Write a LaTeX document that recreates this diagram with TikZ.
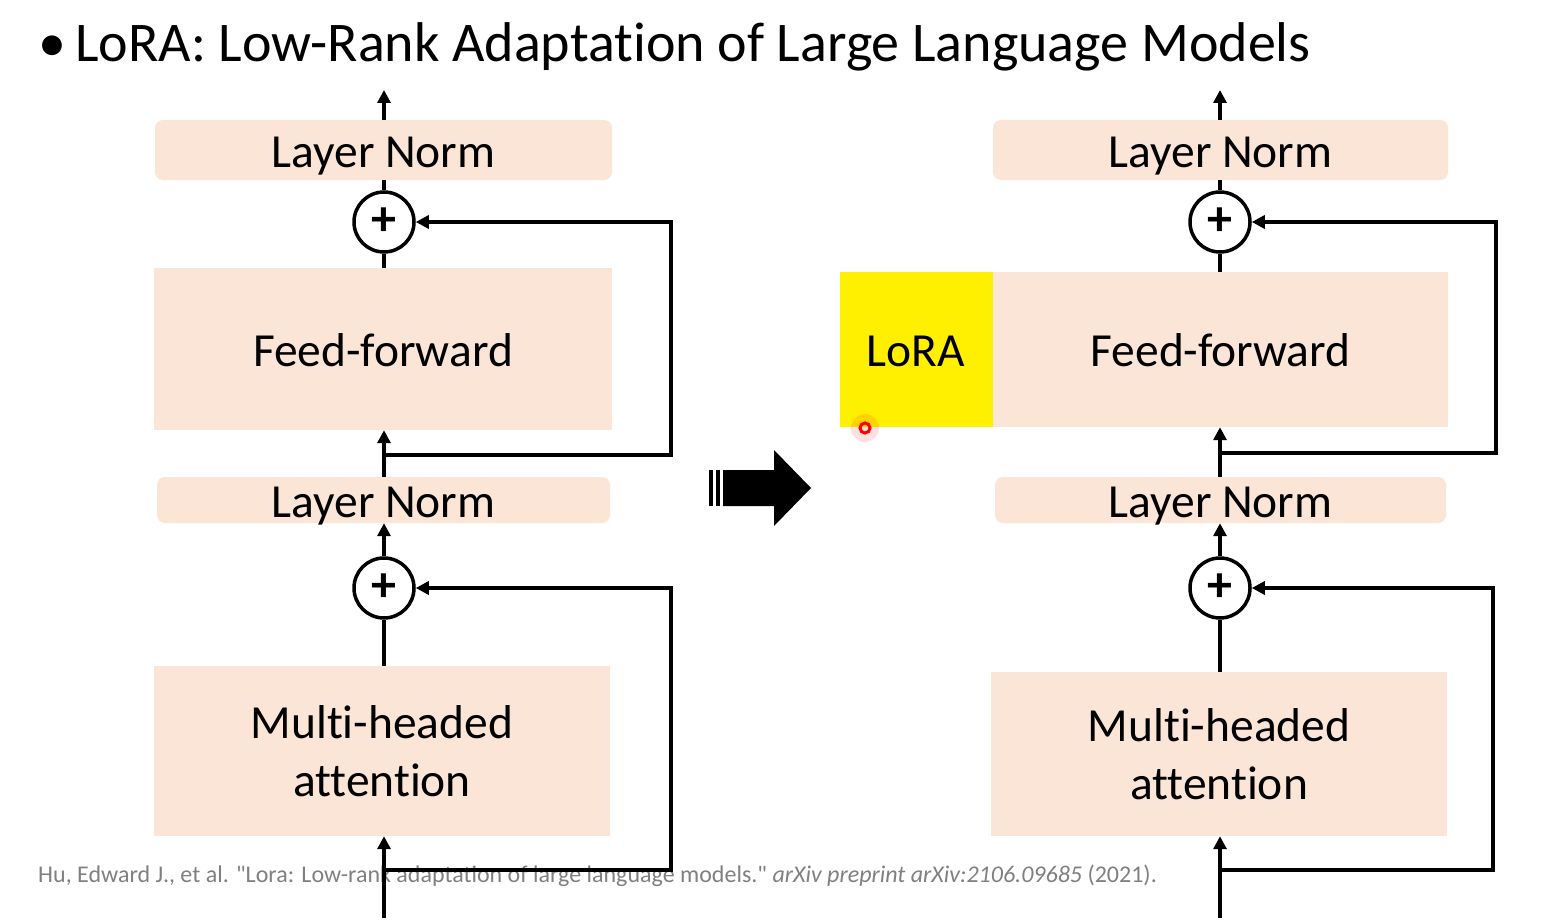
\documentclass[tikz,border=0pt]{standalone}
\usepackage{fontspec}
\setmainfont{Carlito}[Ligatures={NoCommon}]
\newfontfamily\citefont{Carlito}[Ligatures={TeXOff,NoCommon}]
\usetikzlibrary{arrows.meta,calc}
\definecolor{peach}{HTML}{FBE5D6}
\definecolor{loray}{HTML}{FFF000}
\definecolor{citegray}{HTML}{808080}
\tikzset{
  box/.style={fill=peach, draw=none, inner sep=0pt, font=\fontsize{47.5}{58}\selectfont, align=center},
  onel/.style={text height=38pt, text depth=4pt},
  lnbox/.style={box, onel, rounded corners=8pt},
  plus/.style={circle, draw=black, line width=3.5pt, minimum size=60pt, inner sep=0pt, fill=white, font=\fontsize{50}{50}\selectfont\bfseries},
  wire/.style={line width=3.5pt, draw=black},
  arr/.style={wire, -{Triangle[length=13pt,width=13pt]}},
}
\begin{document}
\begin{tikzpicture}[x=1pt,y=-1pt]
\useasboundingbox (0,0) rectangle (1562,923);
\fill[white] (0,0) rectangle (1562,923);
% title
\node[anchor=base west, inner sep=0pt, font=\fontsize{56}{60}\selectfont] (bullet) at (38,62) {•};
\node[anchor=base west, inner sep=0pt, font=\fontsize{56}{60}\selectfont] (title) at (75,62) {LoRA: Low-Rank Adaptation of Large Language Models};
% citation
\node[anchor=base west, inner sep=0pt, text=citegray, font=\citefont\fontsize{24}{28}\selectfont] (cite) at (38,882) {Hu, Edward J., et al. "Lora: Low-rank adaptation of large language models." \textit{arXiv preprint arXiv:2106.09685} (2021).};

% ---------- left column ----------
\node[lnbox, minimum width=457pt, minimum height=60pt] (lnA) at (383.5,150) {Layer Norm};
\node[plus] (cA) at (384,222) {+};
\node[box, onel, minimum width=458pt, minimum height=162pt] (ffA) at (383,349) {Feed-forward};
\node[lnbox, minimum width=453pt, minimum height=46pt] (lnB) at (383.5,500) {Layer Norm};
\node[plus] (cB) at (384,588) {+};
\node[box, minimum width=456pt, minimum height=170pt] (mhA) at (382,751) {Multi-headed\\attention};

\coordinate (topA) at (384,90);
\coordinate (brA1) at (384,455);
\coordinate (inA) at (384,918);
\coordinate (brA2) at (384,870);
\coordinate (rxA) at (671,0);

\draw[arr] (lnA.north -| topA) -- (topA);
\draw[wire] (cA.north) -- (lnA.south -| cA);
\draw[wire] (ffA.north -| cA) -- (cA.south);
\draw[arr] (lnB.north -| brA1) -- (ffA.south -| brA1);
\draw[arr] (brA1) -- (brA1 -| rxA) |- (cA.east);
\draw[arr] (cB.north) -- (lnB.south -| cB);
\draw[wire] (mhA.north -| cB) -- (cB.south);
\draw[arr] (inA) -- (mhA.south -| inA);
\draw[arr] (brA2) -- (brA2 -| rxA) |- (cB.east);

% ---------- middle arrow ----------
\fill[black] (709,470) rectangle (712.5,506);
\fill[black] (716,470) rectangle (719.5,506);
\fill[black] (723,470) -- (774,470) -- (774,450) -- (811,488) -- (774,526) -- (774,506) -- (723,506) -- cycle;

% ---------- right column ----------
\node[lnbox, minimum width=455pt, minimum height=60pt] (lnC) at (1220.5,150) {Layer Norm};
\node[plus] (cC) at (1220,222) {+};
\node[box, onel, minimum width=455pt, minimum height=155pt] (ffC) at (1220.5,349.5) {Feed-forward};
\node[box, onel, fill=loray, minimum width=153pt, minimum height=155pt, anchor=east] (lora) at (ffC.west) {LoRA};
\node[lnbox, minimum width=451pt, minimum height=46pt] (lnD) at (1220.5,500) {Layer Norm};
\node[plus] (cD) at (1220,588) {+};
\node[box, minimum width=456pt, minimum height=164pt] (mhC) at (1219,754) {Multi-headed\\attention};

\coordinate (topC) at (1220,90);
\coordinate (brC1) at (1220,453);
\coordinate (inC) at (1220,918);
\coordinate (brC2) at (1220,870);
\coordinate (rxC1) at (1496,0);
\coordinate (rxC2) at (1493,0);

\draw[arr] (lnC.north -| topC) -- (topC);
\draw[wire] (cC.north) -- (lnC.south -| cC);
\draw[wire] (ffC.north -| cC) -- (cC.south);
\draw[arr] (lnD.north -| brC1) -- (ffC.south -| brC1);
\draw[arr] (brC1) -- (brC1 -| rxC1) |- (cC.east);
\draw[arr] (cD.north) -- (lnD.south -| cD);
\draw[wire] (mhC.north -| cD) -- (cD.south);
\draw[arr] (inC) -- (mhC.south -| inC);
\draw[arr] (brC2) -- (brC2 -| rxC2) |- (cD.east);

% pointer dot
\fill[red, opacity=0.12] (865,428) circle (14pt);
\draw[red, line width=3pt] (865,428) circle (5pt) coordinate (dot);
\end{tikzpicture}
\end{document}
